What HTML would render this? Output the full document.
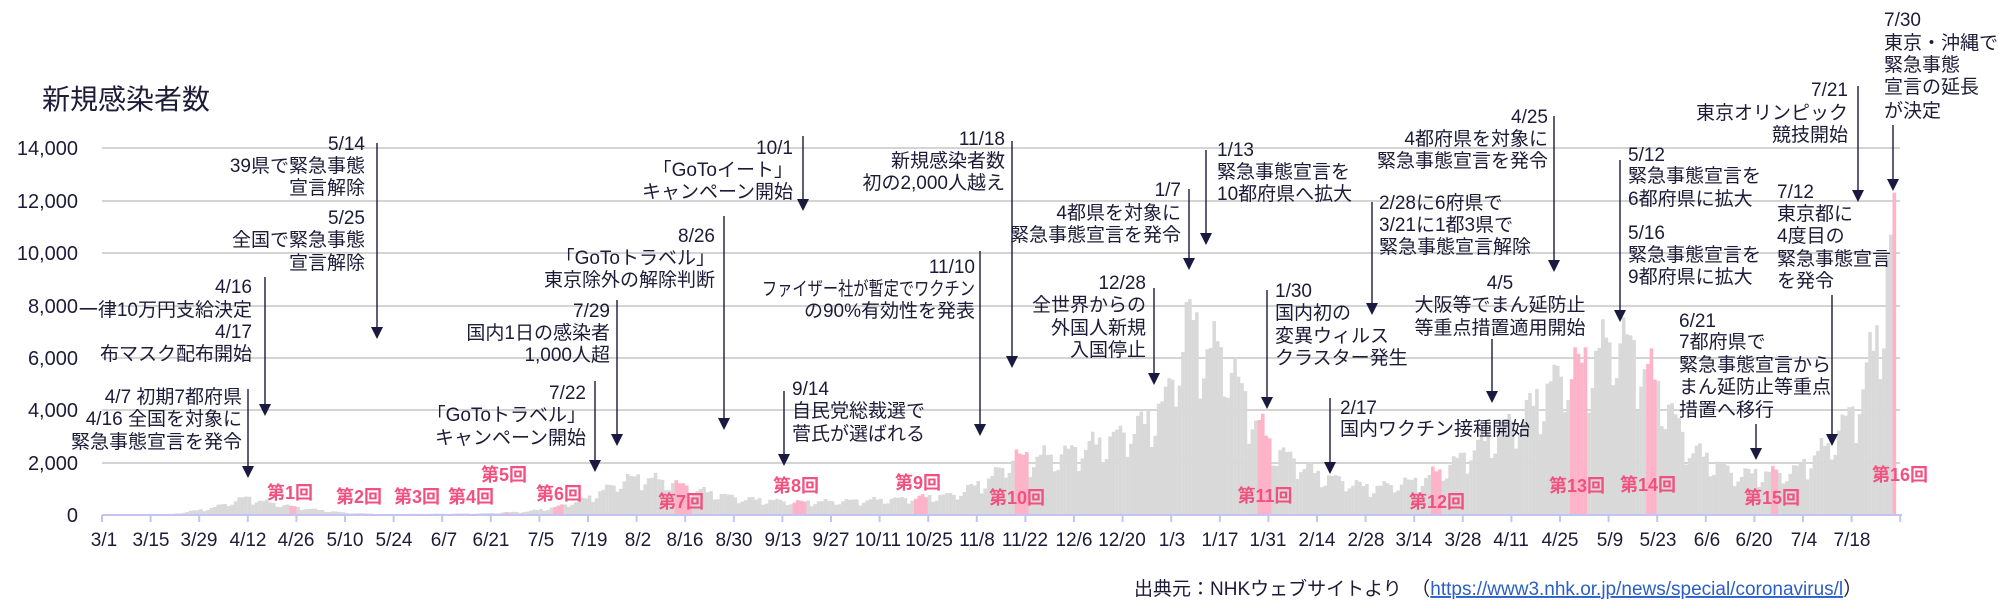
<!DOCTYPE html>
<html><head><meta charset="utf-8"><style>
html,body{margin:0;padding:0;background:#fff;}
svg{display:block;font-family:"Liberation Sans","Noto Sans CJK JP",sans-serif;}
.a{font-size:19px;fill:#1c1c38;}
.y{font-size:20px;fill:#1c1c38;text-anchor:end;}
.x{font-size:19px;fill:#1c1c38;text-anchor:middle;}
.p{font-size:18px;font-weight:bold;fill:#f2507f;text-anchor:middle;}
.r{text-anchor:end;}
.m{text-anchor:middle;}
.ar line{stroke:#1a1a40;stroke-width:1.4;}
.ar path{fill:#1a1a40;}
</style></head><body>
<svg id="s" width="1999" height="610" viewBox="0 0 1999 610" xmlns="http://www.w3.org/2000/svg">
<text x="42" y="109" style="font-size:28px;fill:#1c1c38;">新規感染者数</text>
<g stroke="#d4d4d4" stroke-width="2">
<line x1="102" x2="1900" y1="148" y2="148"/><line x1="102" x2="1900" y1="201" y2="201"/>
<line x1="102" x2="1900" y1="253" y2="253"/><line x1="102" x2="1900" y1="306" y2="306"/>
<line x1="102" x2="1900" y1="358" y2="358"/><line x1="102" x2="1900" y1="410" y2="410"/>
<line x1="102" x2="1900" y1="463" y2="463"/>
</g>
<g class="y">
<text x="78" y="155">14,000</text><text x="78" y="208">12,000</text><text x="78" y="260">10,000</text>
<text x="78" y="313">8,000</text><text x="78" y="365">6,000</text><text x="78" y="417">4,000</text>
<text x="78" y="470">2,000</text><text x="78" y="522">0</text>
</g>
<g id="bars"></g>
<line x1="102" x2="1902" y1="515" y2="515" stroke="#c4c4f2" stroke-width="2"/>
<g id="ticks" stroke="#c4c4f2" stroke-width="2"></g>
<g class="x">
<text x="104" y="546">3/1</text><text x="151" y="546">3/15</text><text x="199" y="546">3/29</text><text x="248" y="546">4/12</text><text x="296" y="546">4/26</text><text x="345" y="546">5/10</text><text x="394" y="546">5/24</text><text x="444" y="546">6/7</text><text x="491" y="546">6/21</text><text x="541" y="546">7/5</text><text x="589" y="546">7/19</text><text x="638" y="546">8/2</text><text x="685" y="546">8/16</text><text x="734" y="546">8/30</text><text x="783" y="546">9/13</text><text x="831" y="546">9/27</text><text x="878" y="546">10/11</text><text x="929" y="546">10/25</text><text x="977" y="546">11/8</text><text x="1025" y="546">11/22</text><text x="1074" y="546">12/6</text><text x="1122" y="546">12/20</text><text x="1172" y="546">1/3</text><text x="1220" y="546">1/17</text><text x="1268" y="546">1/31</text><text x="1317" y="546">2/14</text><text x="1366" y="546">2/28</text><text x="1414" y="546">3/14</text><text x="1463" y="546">3/28</text><text x="1511" y="546">4/11</text><text x="1560" y="546">4/25</text><text x="1610" y="546">5/9</text><text x="1658" y="546">5/23</text><text x="1707" y="546">6/6</text><text x="1754" y="546">6/20</text><text x="1804" y="546">7/4</text><text x="1852" y="546">7/18</text>
</g>
<g class="p">
<text x="290" y="499">第1回</text><text x="359" y="503">第2回</text><text x="417" y="503">第3回</text><text x="471" y="503">第4回</text><text x="504" y="481">第5回</text><text x="559" y="500">第6回</text><text x="681" y="508">第7回</text><text x="796" y="492">第8回</text><text x="918" y="489">第9回</text><text x="1017" y="504">第10回</text><text x="1265" y="502">第11回</text><text x="1437" y="508">第12回</text><text x="1577" y="492">第13回</text><text x="1648" y="491">第14回</text><text x="1772" y="504">第15回</text><text x="1900" y="481">第16回</text>
</g>
<g class="a">
<text class="r" x="365" y="150">5/14<tspan x="365" y="172">39県で緊急事態</tspan><tspan x="365" y="194">宣言解除</tspan><tspan x="365" y="224">5/25</tspan><tspan x="365" y="246">全国で緊急事態</tspan><tspan x="365" y="269">宣言解除</tspan></text>
<text class="r" x="252" y="293">4/16<tspan x="252" y="316">一律10万円支給決定</tspan><tspan x="252" y="338">4/17</tspan><tspan x="252" y="360">布マスク配布開始</tspan></text>
<text class="r" x="242" y="403">4/7 初期7都府県<tspan x="242" y="425">4/16 全国を対象に</tspan><tspan x="242" y="448">緊急事態宣言を発令</tspan></text>
<text class="r" x="610" y="317">7/29<tspan x="610" y="339">国内1日の感染者</tspan><tspan x="610" y="361">1,000人超</tspan></text>
<text class="r" x="586" y="399">7/22<tspan x="586" y="421">「GoToトラベル」</tspan><tspan x="586" y="444">キャンペーン開始</tspan></text>
<text class="r" x="715" y="242">8/26<tspan x="715" y="264">「GoToトラベル」</tspan><tspan x="715" y="286">東京除外の解除判断</tspan></text>
<text class="r" x="793" y="154">10/1<tspan x="793" y="176">「GoToイート」</tspan><tspan x="793" y="198">キャンペーン開始</tspan></text>
<text class="r" x="1005" y="145">11/18<tspan x="1005" y="167">新規感染者数</tspan><tspan x="1005" y="189">初の2,000人越え</tspan></text>
<text x="975" y="273" text-anchor="end">11/10</text>
<text x="762" y="295" textLength="213" lengthAdjust="spacingAndGlyphs">ファイザー社が暫定でワクチン</text>
<text class="r" x="975" y="317">の90%有効性を発表</text>
<text x="792" y="395">9/14<tspan x="792" y="417">自民党総裁選で</tspan><tspan x="792" y="440">菅氏が選ばれる</tspan></text>
<text class="r" x="1146" y="289">12/28<tspan x="1146" y="311">全世界からの</tspan><tspan x="1146" y="334">外国人新規</tspan><tspan x="1146" y="356">入国停止</tspan></text>
<text class="r" x="1181" y="196">1/7<tspan x="1181" y="219">4都県を対象に</tspan><tspan x="1181" y="241">緊急事態宣言を発令</tspan></text>
<text x="1217" y="156">1/13<tspan x="1217" y="178">緊急事態宣言を</tspan><tspan x="1217" y="200">10都府県へ拡大</tspan></text>
<text x="1275" y="297">1/30<tspan x="1275" y="319">国内初の</tspan><tspan x="1275" y="342">変異ウィルス</tspan><tspan x="1275" y="364">クラスター発生</tspan></text>
<text x="1340" y="414">2/17<tspan x="1340" y="435">国内ワクチン接種開始</tspan></text>
<text x="1379" y="209">2/28に6府県で<tspan x="1379" y="231">3/21に1都3県で</tspan><tspan x="1379" y="253">緊急事態宣言解除</tspan></text>
<text class="r" x="1548" y="123">4/25<tspan x="1548" y="145">4都府県を対象に</tspan><tspan x="1548" y="167">緊急事態宣言を発令</tspan></text>
<text class="m" x="1500" y="289">4/5<tspan x="1500" y="311">大阪等でまん延防止</tspan><tspan x="1500" y="334">等重点措置適用開始</tspan></text>
<text x="1628" y="161">5/12<tspan x="1628" y="182">緊急事態宣言を</tspan><tspan x="1628" y="205">6都府県に拡大</tspan><tspan x="1628" y="239">5/16</tspan><tspan x="1628" y="261">緊急事態宣言を</tspan><tspan x="1628" y="283">9都府県に拡大</tspan></text>
<text x="1679" y="327">6/21<tspan x="1679" y="348">7都府県で</tspan><tspan x="1679" y="371">緊急事態宣言から</tspan><tspan x="1679" y="393">まん延防止等重点</tspan><tspan x="1679" y="416">措置へ移行</tspan></text>
<text x="1777" y="198">7/12<tspan x="1777" y="220">東京都に</tspan><tspan x="1777" y="242">4度目の</tspan><tspan x="1777" y="265">緊急事態宣言</tspan><tspan x="1777" y="287">を発令</tspan></text>
<text class="r" x="1848" y="96">7/21<tspan x="1848" y="119">東京オリンピック</tspan><tspan x="1848" y="141">競技開始</tspan></text>
<text x="1884" y="26">7/30<tspan x="1884" y="49">東京・沖縄で</tspan><tspan x="1884" y="71">緊急事態</tspan><tspan x="1884" y="93">宣言の延長</tspan><tspan x="1884" y="117">が決定</tspan></text>
<text x="1134" y="595">出典元：NHKウェブサイトより　（<tspan fill="#2b5fc7" text-decoration="underline">https://www3.nhk.or.jp/news/special/coronavirus/l</tspan>）</text>
</g>
<g id="arrows" class="ar"></g>
</svg>
<script>
var NS="http://www.w3.org/2000/svg";
function el(n,a,p){var e=document.createElementNS(NS,n);for(var k in a)e.setAttribute(k,a[k]);p.appendChild(e);return e;}
var tk=document.getElementById("ticks");
for(var i=0;i<=37;i++){var x=102+i*48.6;if(x>1902)x=1901;el("line",{x1:x,x2:x,y1:515,y2:522},tk);}
var arr=[[377,143,339],[265,277,416],[248,389,478],[617,300,446],[595,381,472],[724,216,430],[803,136,211],[1012,141,368],[980,251,436],[784,391,466],[1154,288,385],[1189,189,270],[1206,150,245],[1267,290,409],[1330,398,474],[1372,202,315],[1554,116,272],[1492,339,403],[1620,160,322],[1756,424,460],[1832,295,446],[1858,86,202],[1893,125,191]];
var ag=document.getElementById("arrows");
arr.forEach(function(a){el("line",{x1:a[0],x2:a[0],y1:a[1],y2:a[2]-10},ag);el("path",{d:"M"+(a[0]-6)+" "+(a[2]-12)+"L"+(a[0]+6)+" "+(a[2]-12)+"L"+a[0]+" "+a[2]+"Z"},ag);});
var kp=[[0,10],[20,40],[31,250],[41,650],[46,500],[55,300],[61,200],[70,80],[80,35],[92,40],[110,60],[122,130],[130,280],[140,650],[150,1300],[155,1400],[162,1250],[172,900],[184,600],[200,480],[214,520],[230,600],[245,750],[255,1300],[262,2100],[275,2200],[290,2800],[300,3400],[306,4200],[313,7300],[318,6000],[322,6200],[330,4000],[337,2500],[350,1500],[365,1000],[380,1300],[390,2000],[396,2600],[410,3800],[420,5200],[426,5500],[436,6600],[440,6200],[447,5000],[457,2500],[470,1500],[487,1600],[497,2600],[505,4000],[512,7000],[515,10700],[516,12300]];
function val(d){for(var i=0;i<kp.length-1;i++){if(d>=kp[i][0]&&d<=kp[i+1][0]){var t=(d-kp[i][0])/(kp[i+1][0]-kp[i][0]);return kp[i][1]+t*(kp[i+1][1]-kp[i][1]);}}return kp[kp.length-1][1];}
var wk=[1.08,0.72,0.82,1.02,1.12,1.16,1.08];
var pink=[[54,55],[116,116],[130,132],[165,169],[199,202],[234,237],[263,266],[333,336],[383,385],[423,427],[445,447],[481,482],[516,516]];
function isP(d){for(var i=0;i<pink.length;i++)if(d>=pink[i][0]&&d<=pink[i][1])return true;return false;}
var bg=document.getElementById("bars");
for(var d=0;d<=516;d++){var v=val(d);if(d<514)v*=wk[d%7];if(d<515)v*=1+0.06*Math.sin(d*2.3);var h=v*0.02621;var x=102+d*3.47;
el("rect",{x:x.toFixed(2),y:(515-h).toFixed(2),width:3.6,height:h.toFixed(2),fill:isP(d)?"#ffb3c8":"#d9d9d9"},bg);}
</script>
</body></html>
